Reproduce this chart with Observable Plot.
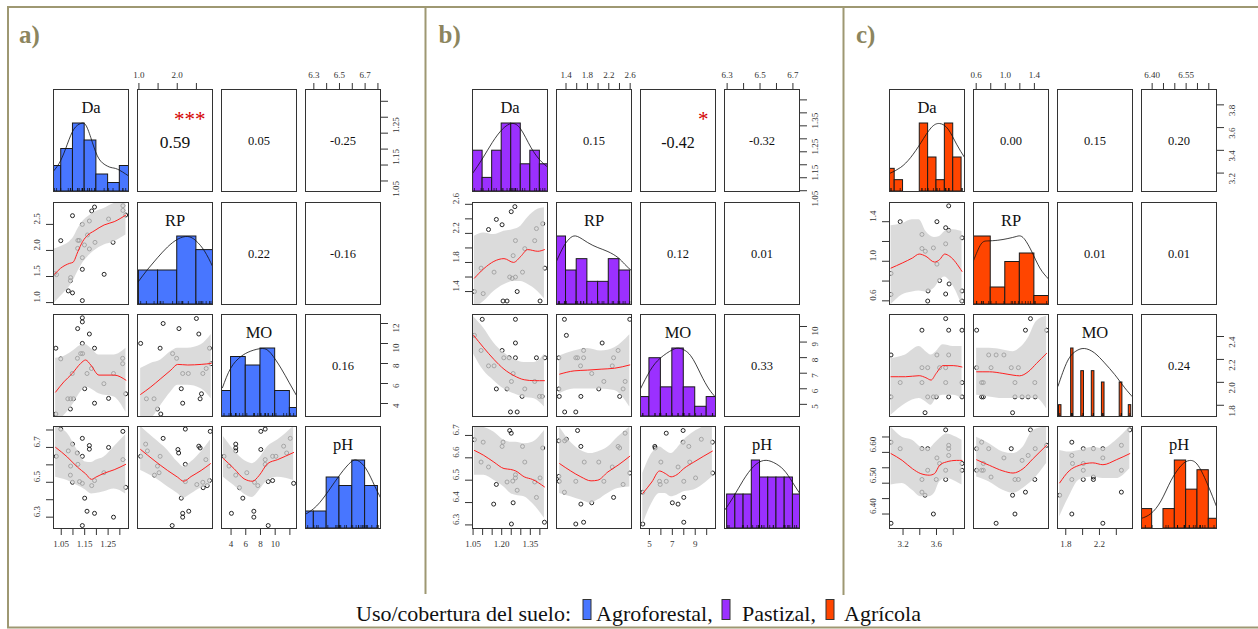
<!DOCTYPE html>
<html><head><meta charset="utf-8">
<script src="https://cdn.jsdelivr.net/npm/d3@7"></script>
<script src="https://cdn.jsdelivr.net/npm/@observablehq/plot@0.6"></script>
<style>
body{margin:0;background:#fff;}
#root{position:relative;width:1258px;height:629px;overflow:hidden;background:#fff;font-family:"Liberation Serif","Times New Roman",serif;}
</style></head>
<body><div id="root"></div>
<script>
// ---------------- DATA ----------------
const varNames = ["Da","RP","MO","pH"];
const groupLabels = ["a)","b)","c)"];
const groupColors = ["#4876FF","#9B30FF","#FF4500"];
const legendTitle = "Uso/cobertura del suelo:";
const legendLabels = ["Agroforestal,","Pastizal,","Agrícola"];

// ---- a) Agroforestal ----
const a_domains = [[1.017,1.337],[0.963,2.92],[2.7,12.9],[6.235,6.82]];
const a_ticks = [[1.05,1.10,1.15,1.20,1.25,1.30],[1.0,1.5,2.0,2.5],[4,6,8,10,12],[6.3,6.4,6.5,6.6,6.7,6.8]];
const a_hLabels = [[1.05,1.15,1.25],[1.0,2.0],[4,6,8,10],[6.3,6.5,6.7]];
const a_vLabels = [[1.05,1.15,1.25],[1.0,1.5,2.0,2.5],[4,6,8,10,12],[6.3,6.5,6.7]];
const a_decimals = [2,1,0,1];
const a_r = [0.59,0.05,-0.25,0.22,-0.16,0.16];
const a_sig = ["***","","","","",""];
const a_Da_bins = [1.00,1.05,1.10,1.15,1.20,1.25,1.30,1.35];
const a_Da_counts = [3,5,8,6,2,1,3];
const a_Da_dens = [[1.018,0.304],[1.047,0.451],[1.076,0.696],[1.104,0.917],[1.133,1.0],[1.154,0.98],[1.176,0.794],[1.204,0.525],[1.233,0.402],[1.262,0.353],[1.290,0.328],[1.337,0.230]];
const a_RP_bins = [1.0,1.5,2.0,2.5,3.0];
const a_RP_counts = [5,5,10,8];
const a_RP_dens = [[0.974,0.328],[1.221,0.512],[1.484,0.687],[1.747,0.846],[2.011,0.960],[2.274,1.0],[2.492,0.935],[2.711,0.786],[2.921,0.562]];
const a_MO_bins = [2,4,6,8,10,12,14];
const a_MO_counts = [3,7,6,8,3,1];
const a_MO_dens = [[2.83,0.423],[3.96,0.712],[5.32,0.880],[6.69,0.962],[8.28,1.0],[9.42,0.928],[10.78,0.712],[11.92,0.495],[12.93,0.303]];
const a_pH_bins = [6.2,6.3,6.4,6.5,6.6,6.7,6.8];
const a_pH_counts = [2,2,6,5,8,5];
const a_pH_dens = [[6.234,0.208],[6.322,0.332],[6.415,0.554],[6.508,0.802],[6.588,0.975],[6.642,1.0],[6.708,0.876],[6.774,0.629],[6.822,0.446]];
const a_Da_RP = [[1.021,1.556],[1.030,1.536],[1.048,2.188],[1.080,1.224],[1.089,1.419],[1.090,1.479],[1.098,2.667],[1.098,1.186],[1.120,2.040],[1.121,2.193],[1.127,2.193],[1.140,2.500],[1.140,1.862],[1.140,1.638],[1.140,1.038],[1.149,2.105],[1.162,2.297],[1.170,2.565],[1.170,2.029],[1.180,2.757],[1.192,2.833],[1.194,2.155],[1.233,1.542],[1.252,2.603],[1.271,2.155],[1.313,2.858],[1.313,2.768],[1.325,2.680]];
const a_Da_RP_fit = [[1.021,1.542,0.987,2.029],[1.047,1.657,1.115,2.073],[1.086,1.753,1.307,2.169],[1.100,1.772,1.402,2.232],[1.121,1.977,1.594,2.412],[1.141,2.169,1.753,2.552],[1.164,2.297,1.881,2.648],[1.190,2.374,1.990,2.730],[1.233,2.489,2.105,2.807],[1.276,2.552,2.169,2.902],[1.326,2.680,2.297,2.935]];
const a_Da_MO = [[1.027,9.53],[1.048,8.46],[1.027,2.95],[1.089,3.45],[1.078,4.47],[1.090,4.47],[1.102,4.47],[1.097,7.00],[1.119,8.52],[1.120,11.49],[1.133,8.99],[1.140,12.57],[1.140,12.16],[1.140,10.01],[1.141,8.99],[1.170,10.95],[1.179,7.50],[1.160,7.00],[1.150,5.48],[1.192,9.53],[1.192,4.03],[1.232,5.98],[1.252,4.51],[1.273,7.00],[1.312,8.52],[1.312,7.98],[1.325,4.97]];
const a_Da_MO_fit = [[1.026,5.14,2.11,8.52],[1.061,6.16,2.78,8.69],[1.097,7.00,3.80,9.19],[1.133,8.01,5.14,9.80],[1.154,8.35,5.65,9.87],[1.176,7.85,5.48,9.53],[1.211,6.84,4.97,8.86],[1.276,6.84,4.64,8.86],[1.326,6.33,3.12,9.53]];
const a_RP_MO = [[1.045,10.01],[1.195,4.47],[1.395,4.47],[1.484,3.45],[1.571,2.95],[1.553,9.53],[1.632,12.0],[1.879,8.99],[1.984,8.52],[2.045,11.49],[2.105,5.48],[2.142,7.00],[2.142,4.03],[2.289,7.00],[2.500,12.5],[2.563,10.95],[2.597,4.47],[2.632,4.97],[2.668,7.00],[2.755,7.50],[2.842,9.53],[2.879,7.98]];
const a_RP_MO_fit = [[1.045,4.91,2.11,7.50],[1.308,5.65,2.44,8.01],[1.571,6.49,3.80,8.35],[1.834,7.34,5.14,9.19],[2.011,7.91,5.82,9.53],[2.274,7.85,5.82,9.53],[2.624,7.91,5.48,9.87],[2.887,8.01,4.47,10.89]];
const a_Da_pH = [[1.029,6.649],[1.048,6.805],[1.080,6.680],[1.089,6.541],[1.090,6.593],[1.098,6.719],[1.098,6.500],[1.118,6.668],[1.121,6.603],[1.128,6.504],[1.140,6.752],[1.140,6.649],[1.140,6.494],[1.150,6.409],[1.140,6.252],[1.160,6.334],[1.170,6.711],[1.170,6.690],[1.180,6.481],[1.192,6.510],[1.192,6.322],[1.232,6.555],[1.252,6.700],[1.273,6.300],[1.313,6.630],[1.313,6.792],[1.325,6.471]];
const a_Da_pH_fit = [[1.026,6.700,6.529,6.820],[1.076,6.645,6.510,6.781],[1.119,6.587,6.481,6.684],[1.154,6.549,6.456,6.616],[1.179,6.517,6.433,6.613],[1.197,6.529,6.436,6.626],[1.233,6.552,6.446,6.645],[1.276,6.572,6.462,6.704],[1.325,6.603,6.433,6.772]];
const a_RP_pH = [[1.045,6.649],[1.176,6.719],[1.221,6.680],[1.405,6.541],[1.484,6.593],[1.526,6.555],[1.553,6.649],[1.632,6.752],[1.868,6.252],[2.018,6.688],[2.037,6.668],[2.105,6.409],[2.142,6.322],[2.142,6.300],[2.211,6.805],[2.211,6.603],[2.211,6.504],[2.300,6.334],[2.511,6.487],[2.563,6.707],[2.597,6.697],[2.668,6.500],[2.676,6.469],[2.747,6.630],[2.782,6.481],[2.842,6.510],[2.861,6.792]];
const a_RP_pH_fit = [[1.045,6.688,6.568,6.820],[1.395,6.626,6.529,6.752],[1.747,6.568,6.475,6.684],[2.011,6.529,6.436,6.616],[2.168,6.506,6.409,6.587],[2.361,6.533,6.433,6.616],[2.624,6.568,6.467,6.674],[2.868,6.607,6.481,6.742]];
const a_MO_pH = [[3.04,6.649],[3.72,6.593],[4.05,6.322],[4.64,6.719],[4.64,6.697],[4.64,6.680],[4.64,6.541],[5.14,6.469],[5.60,6.409],[6.14,6.555],[7.10,6.334],[7.10,6.300],[7.19,6.500],[7.64,6.481],[8.05,6.792],[8.05,6.688],[8.64,6.805],[8.64,6.630],[8.64,6.603],[9.05,6.504],[9.05,6.252],[9.65,6.510],[9.65,6.649],[10.10,6.649],[11.15,6.707],[11.56,6.668],[12.05,6.752],[12.51,6.494]];
const a_MO_pH_fit = [[2.96,6.636,6.529,6.762],[4.41,6.578,6.481,6.684],[5.77,6.520,6.433,6.626],[6.92,6.506,6.413,6.607],[7.82,6.539,6.452,6.636],[8.97,6.607,6.510,6.704],[10.33,6.630,6.529,6.742],[12.51,6.671,6.510,6.820]];

// ---- b) Pastizal ----
const b_domains = [[1.047,1.440],[1.222,2.625],[4.22,10.77],[6.284,6.740]];
const b_ticks = [[1.05,1.10,1.15,1.20,1.25,1.30,1.35,1.40],[1.4,1.6,1.8,2.0,2.2,2.4,2.6],[5,6,7,8,9,10],[6.3,6.4,6.5,6.6,6.7]];
const b_hLabels = [[1.05,1.20,1.35],[1.4,1.8,2.2,2.6],[5,7,9],[6.3,6.5,6.7]];
const b_vLabels = [[1.05,1.15,1.25,1.35],[1.4,1.8,2.2,2.6],[5,6,7,8,9,10],[6.3,6.4,6.5,6.6,6.7]];
const b_decimals = [2,1,0,1];
const b_r = [0.15,-0.42,-0.32,0.12,0.01,0.33];
const b_sig = ["","*","","","",""];
const b_Da_bins = [1.05,1.10,1.15,1.20,1.25,1.30,1.35,1.40,1.45];
const b_Da_counts = [3,1,3,5,5,2,3,2];
const b_Da_dens = [[1.048,0.268],[1.098,0.478],[1.151,0.722],[1.204,0.917],[1.253,1.0],[1.300,0.917],[1.353,0.649],[1.403,0.454],[1.442,0.356]];
const b_RP_bins = [1.2,1.4,1.6,1.8,2.0,2.2,2.4,2.6];
const b_RP_counts = [6,3,4,2,2,4,3];
const b_RP_dens = [[1.224,0.640],[1.362,0.862],[1.489,0.985],[1.616,1.0],[1.805,0.911],[1.995,0.837],[2.184,0.778],[2.373,0.690],[2.499,0.591],[2.631,0.493]];
const b_MO_bins = [4,5,6,7,8,9,10,11];
const b_MO_counts = [2,6,3,7,3,1,2];
const b_MO_dens = [[4.21,0.404],[5.06,0.675],[5.94,0.857],[7.00,0.980],[7.70,1.0],[8.59,0.897],[9.47,0.626],[10.20,0.404],[10.79,0.281]];
const b_pH_bins = [6.30,6.35,6.40,6.45,6.50,6.55,6.60,6.65,6.70,6.75];
const b_pH_counts = [2,2,2,4,3,3,3,3,2];
const b_pH_dens = [[6.282,0.26],[6.337,0.46],[6.398,0.71],[6.460,0.91],[6.522,1.0],[6.583,0.97],[6.645,0.86],[6.696,0.685],[6.743,0.51]];
const b_Da_RP = [[1.057,1.400],[1.103,1.372],[1.092,1.722],[1.131,2.253],[1.160,1.667],[1.172,2.392],[1.202,2.319],[1.207,1.270],[1.228,1.270],[1.242,1.600],[1.255,1.582],[1.250,2.499],[1.269,2.568],[1.260,1.894],[1.272,2.101],[1.272,1.599],[1.281,1.400],[1.309,1.667],[1.321,1.990],[1.373,2.100],[1.382,2.266],[1.401,1.270],[1.415,2.333],[1.426,1.722]];
const b_Da_RP_fit = [[1.057,1.584,1.169,2.161],[1.106,1.714,1.262,2.207],[1.159,1.815,1.400,2.184],[1.212,1.853,1.493,2.230],[1.262,1.801,1.538,2.254],[1.300,1.884,1.538,2.300],[1.336,1.977,1.500,2.415],[1.389,1.954,1.400,2.531],[1.424,1.977,1.300,2.553]];
const b_Da_MO = [[1.057,9.43],[1.098,10.46],[1.092,8.46],[1.131,7.47],[1.160,7.47],[1.172,5.99],[1.202,8.46],[1.211,7.99],[1.228,5.99],[1.239,7.99],[1.246,4.51],[1.251,6.47],[1.260,6.98],[1.272,10.46],[1.272,8.94],[1.272,7.99],[1.281,4.51],[1.307,5.51],[1.321,5.99],[1.373,6.47],[1.382,7.99],[1.398,5.51],[1.412,5.51],[1.426,7.99]];
const b_Da_MO_fit = [[1.053,9.43,8.21,10.63],[1.106,8.63,7.15,9.89],[1.159,7.89,6.52,8.94],[1.212,7.26,5.99,8.31],[1.265,6.84,5.68,7.89],[1.318,6.58,5.46,7.68],[1.371,6.52,5.36,7.68],[1.424,6.52,4.83,8.21]];
const b_RP_MO = [[1.267,7.99],[1.267,5.99],[1.274,5.51],[1.370,10.46],[1.375,4.51],[1.407,9.43],[1.583,7.99],[1.616,7.99],[1.583,4.51],[1.678,5.51],[1.729,8.46],[1.729,7.99],[1.672,7.47],[1.881,6.98],[2.013,5.99],[2.076,8.94],[2.108,6.47],[2.265,7.47],[2.290,7.99],[2.374,8.46],[2.404,5.51],[2.468,5.99],[2.506,6.47],[2.593,10.46]];
const b_RP_MO_fit = [[1.281,6.94,5.68,8.10],[1.552,7.15,5.99,8.42],[1.805,7.20,5.99,8.59],[2.057,7.26,5.99,8.42],[2.309,7.32,5.89,8.63],[2.593,7.53,4.83,9.47]];
const b_Da_pH = [[1.057,6.681],[1.103,6.670],[1.092,6.581],[1.131,6.559],[1.172,6.481],[1.158,6.393],[1.202,6.651],[1.207,6.670],[1.228,6.492],[1.242,6.722],[1.250,6.710],[1.251,6.304],[1.260,6.399],[1.272,6.524],[1.272,6.510],[1.281,6.455],[1.309,6.651],[1.321,6.581],[1.373,6.492],[1.382,6.423],[1.401,6.510],[1.415,6.644],[1.424,6.312],[1.258,6.496]];
const b_Da_pH_fit = [[1.057,6.633,6.522,6.744],[1.106,6.611,6.522,6.737],[1.159,6.581,6.500,6.715],[1.212,6.552,6.470,6.678],[1.247,6.548,6.441,6.670],[1.274,6.541,6.433,6.670],[1.318,6.515,6.426,6.663],[1.362,6.503,6.396,6.670],[1.424,6.470,6.330,6.722]];
const b_RP_pH = [[1.267,6.676],[1.267,6.517],[1.274,6.495],[1.370,6.446],[1.375,6.676],[1.407,6.683],[1.583,6.304],[1.583,6.495],[1.616,6.722],[1.678,6.651],[1.678,6.393],[1.729,6.312],[1.741,6.581],[1.881,6.399],[2.013,6.581],[2.108,6.495],[2.265,6.559],[2.290,6.423],[2.374,6.651],[2.404,6.644],[2.468,6.481],[2.506,6.710],[2.593,6.532]];
const b_RP_pH_fit = [[1.281,6.574,6.441,6.737],[1.489,6.541,6.426,6.670],[1.678,6.515,6.411,6.633],[1.868,6.497,6.396,6.619],[1.994,6.500,6.411,6.626],[2.184,6.537,6.441,6.648],[2.373,6.567,6.463,6.693],[2.593,6.607,6.470,6.737]];
const b_MO_pH = [[4.42,6.446],[4.42,6.304],[5.47,6.651],[5.50,6.644],[5.88,6.495],[5.94,6.481],[6.00,6.581],[6.47,6.495],[6.47,6.710],[7.00,6.399],[7.50,6.559],[7.50,6.393],[7.94,6.722],[7.94,6.670],[8.00,6.495],[8.00,6.312],[8.00,6.423],[8.44,6.651],[8.52,6.581],[9.03,6.510],[9.53,6.683],[10.50,6.670],[10.52,6.532]];
const b_MO_pH_fit = [[4.42,6.441,6.300,6.530],[5.21,6.492,6.396,6.619],[5.88,6.541,6.441,6.648],[6.38,6.530,6.441,6.633],[6.89,6.515,6.426,6.619],[7.41,6.525,6.433,6.641],[8.00,6.552,6.448,6.678],[8.88,6.581,6.456,6.715],[10.50,6.630,6.515,6.752]];

// ---- c) Agrícola ----
const c_domains = [[3.038,3.935],[0.563,1.594],[1.702,2.592],[6.353,6.684]];
const c_ticks = [[3.2,3.4,3.6,3.8],[0.6,0.8,1.0,1.2,1.4],[1.8,2.0,2.2,2.4],[6.40,6.45,6.50,6.55,6.60,6.65]];
const c_hLabels = [[3.2,3.6],[0.6,1.0,1.4],[1.8,2.2],[6.40,6.55]];
const c_vLabels = [[3.2,3.4,3.6,3.8],[0.6,1.0,1.4],[1.8,2.0,2.2,2.4],[6.40,6.50,6.60]];
const c_decimals = [1,1,1,2];
const c_r = [0.00,0.15,0.20,0.01,0.01,0.24];
const c_sig = ["","","","","",""];
const c_Da_bins = [3.0,3.1,3.2,3.3,3.4,3.5,3.6,3.7,3.8,3.9];
const c_Da_counts = [2,1,0,0,6,3,1,6,3];
const c_Da_dens = [[3.039,0.265],[3.170,0.353],[3.291,0.5],[3.413,0.716],[3.535,0.936],[3.637,1.0],[3.739,0.917],[3.840,0.696],[3.941,0.49]];
const c_RP_bins = [0.5,0.8,1.0,1.2,1.4,1.6];
const c_RP_counts = [8,2,5,6,1];
const c_RP_dens = [[0.564,0.647],[0.665,0.886],[0.758,0.935],[0.897,0.945],[1.036,0.970],[1.151,1.0],[1.244,0.985],[1.360,0.786],[1.475,0.537],[1.592,0.378]];
const c_MO_bins = [[1.720,1.749],[1.864,1.892],[1.984,2.016],[2.109,2.140],[2.229,2.260],[2.440,2.472],[2.548,2.577]];
const c_MO_counts = [1,6,4,4,3,3,1];
const c_MO_dens = [[1.708,0.446],[1.820,0.814],[1.920,0.961],[2.020,1.0],[2.140,0.936],[2.260,0.789],[2.380,0.618],[2.500,0.422],[2.596,0.284]];
const c_pH_bins = [6.35,6.40,6.45,6.50,6.55,6.60,6.65,6.70];
const c_pH_counts = [2,0,2,7,4,6,1];
const c_pH_dens = [[6.353,0.149],[6.394,0.218],[6.439,0.406],[6.483,0.703],[6.528,0.926],[6.565,1.0],[6.603,0.926],[6.647,0.629],[6.683,0.332]];
const c_Da_RP = [[3.056,0.877],[3.056,0.665],[3.166,1.400],[3.426,1.271],[3.426,1.129],[3.466,1.101],[3.499,0.700],[3.495,0.598],[3.563,1.135],[3.605,1.400],[3.605,0.971],[3.637,0.805],[3.710,1.339],[3.710,1.176],[3.710,0.669],[3.746,1.560],[3.746,1.312],[3.751,0.771],[3.905,1.237],[3.905,0.700],[3.905,0.598]];
const c_Da_RP_fit = [[3.056,0.931,0.56,1.36],[3.190,0.982,0.66,1.38],[3.312,1.033,0.69,1.42],[3.393,1.073,0.70,1.42],[3.474,1.050,0.69,1.30],[3.576,0.992,0.73,1.24],[3.637,1.016,0.80,1.25],[3.698,1.073,0.84,1.30],[3.759,1.050,0.80,1.32],[3.905,0.897,0.56,1.30]];
const c_Da_MO = [[3.056,2.239],[3.056,1.873],[3.166,1.998],[3.426,2.455],[3.426,2.128],[3.426,1.998],[3.463,1.735],[3.495,2.128],[3.495,1.873],[3.563,1.873],[3.597,1.873],[3.605,2.239],[3.637,2.128],[3.710,2.556],[3.710,2.128],[3.710,1.998],[3.746,2.455],[3.746,2.239],[3.746,1.873],[3.905,2.455],[3.905,1.998],[3.905,1.873]];
const c_Da_MO_fit = [[3.056,2.049,1.712,2.209],[3.230,2.049,1.814,2.239],[3.393,2.058,1.858,2.312],[3.474,2.040,1.829,2.268],[3.535,2.020,1.800,2.239],[3.596,2.078,1.858,2.268],[3.678,2.146,1.888,2.327],[3.800,2.146,1.888,2.312],[3.905,2.134,1.858,2.312]];
const c_RP_MO = [[0.606,2.455],[0.606,2.128],[0.675,1.998],[0.698,1.998],[0.675,1.873],[0.698,1.873],[0.772,2.239],[0.804,2.128],[0.874,2.239],[0.981,2.239],[1.082,2.128],[1.100,1.735],[1.133,1.998],[1.133,1.873],[1.180,2.128],[1.231,1.873],[1.277,2.455],[1.314,1.873],[1.346,2.556],[1.406,1.998],[1.411,1.873],[1.568,2.455]];
const c_RP_MO_fit = [[0.606,2.092,1.888,2.297],[0.781,2.092,1.873,2.297],[0.967,2.078,1.858,2.283],[1.106,2.063,1.858,2.268],[1.197,2.057,1.858,2.297],[1.314,2.092,1.858,2.385],[1.429,2.165,1.858,2.532],[1.568,2.253,1.770,2.576]];
const c_Da_pH = [[3.056,6.633],[3.056,6.370],[3.166,6.612],[3.426,6.612],[3.426,6.512],[3.426,6.471],[3.463,6.461],[3.495,6.612],[3.495,6.542],[3.563,6.400],[3.597,6.512],[3.605,6.582],[3.637,6.564],[3.710,6.673],[3.710,6.542],[3.710,6.512],[3.746,6.623],[3.746,6.590],[3.746,6.612],[3.905,6.564],[3.905,6.542]];
const c_Da_pH_fit = [[3.056,6.596,6.494,6.682],[3.190,6.574,6.499,6.649],[3.312,6.547,6.477,6.639],[3.413,6.531,6.456,6.617],[3.515,6.526,6.456,6.612],[3.576,6.531,6.467,6.628],[3.637,6.558,6.504,6.644],[3.718,6.569,6.515,6.660],[3.840,6.574,6.504,6.649],[3.905,6.574,6.494,6.639]];
const c_RP_pH = [[0.606,6.612],[0.606,6.542],[0.675,6.633],[0.675,6.542],[0.698,6.564],[0.698,6.542],[0.772,6.612],[0.804,6.520],[0.874,6.370],[0.981,6.582],[1.082,6.612],[1.100,6.461],[1.133,6.400],[1.133,6.512],[1.180,6.512],[1.231,6.574],[1.277,6.471],[1.314,6.590],[1.346,6.673],[1.406,6.512],[1.411,6.612],[1.568,6.623]];
const c_RP_pH_fit = [[0.606,6.576,6.520,6.649],[0.781,6.558,6.504,6.628],[0.967,6.540,6.477,6.601],[1.106,6.533,6.467,6.596],[1.244,6.547,6.483,6.617],[1.383,6.580,6.510,6.671],[1.568,6.623,6.564,6.682]];
const c_MO_pH = [[1.728,6.461],[1.872,6.633],[1.872,6.590],[1.872,6.512],[1.872,6.400],[1.880,6.564],[2.008,6.612],[2.008,6.542],[2.008,6.512],[2.008,6.564],[2.128,6.612],[2.128,6.520],[2.128,6.512],[2.240,6.612],[2.240,6.582],[2.240,6.370],[2.460,6.542],[2.460,6.471],[2.460,6.623],[2.560,6.673]];
const c_MO_pH_fit = [[1.728,6.501,6.391,6.606],[1.840,6.540,6.456,6.601],[1.960,6.558,6.510,6.606],[2.121,6.566,6.520,6.617],[2.241,6.560,6.515,6.612],[2.400,6.576,6.515,6.639],[2.560,6.596,6.547,6.682]];

// ---------------- TABLES BUILT FROM THE ARRAYS ----------------
function buildGroup(domains, ticks, hLab, vLab, dec, r, sig, hist, sc) {
  return {domains, ticks, hLab, vLab, dec, r, sig, hist,
    scatter: {"1,0": sc[0], "2,0": sc[1], "2,1": sc[2], "3,0": sc[3], "3,1": sc[4], "3,2": sc[5]},
    rug: [sc[0][0].map(d => d[0]), sc[2][0].map(d => d[0]), sc[5][0].map(d => d[0]), sc[3][0].map(d => d[1])]};
}
const groups = [
  buildGroup(a_domains, a_ticks, a_hLabels, a_vLabels, a_decimals, a_r, a_sig,
    [[a_Da_bins,a_Da_counts,a_Da_dens],[a_RP_bins,a_RP_counts,a_RP_dens],[a_MO_bins,a_MO_counts,a_MO_dens],[a_pH_bins,a_pH_counts,a_pH_dens]],
    [[a_Da_RP,a_Da_RP_fit],[a_Da_MO,a_Da_MO_fit],[a_RP_MO,a_RP_MO_fit],[a_Da_pH,a_Da_pH_fit],[a_RP_pH,a_RP_pH_fit],[a_MO_pH,a_MO_pH_fit]]),
  buildGroup(b_domains, b_ticks, b_hLabels, b_vLabels, b_decimals, b_r, b_sig,
    [[b_Da_bins,b_Da_counts,b_Da_dens],[b_RP_bins,b_RP_counts,b_RP_dens],[b_MO_bins,b_MO_counts,b_MO_dens],[b_pH_bins,b_pH_counts,b_pH_dens]],
    [[b_Da_RP,b_Da_RP_fit],[b_Da_MO,b_Da_MO_fit],[b_RP_MO,b_RP_MO_fit],[b_Da_pH,b_Da_pH_fit],[b_RP_pH,b_RP_pH_fit],[b_MO_pH,b_MO_pH_fit]]),
  buildGroup(c_domains, c_ticks, c_hLabels, c_vLabels, c_decimals, c_r, c_sig,
    [[c_Da_bins,c_Da_counts,c_Da_dens],[c_RP_bins,c_RP_counts,c_RP_dens],[c_MO_bins,c_MO_counts,c_MO_dens],[c_pH_bins,c_pH_counts,c_pH_dens]],
    [[c_Da_RP,c_Da_RP_fit],[c_Da_MO,c_Da_MO_fit],[c_RP_MO,c_RP_MO_fit],[c_Da_pH,c_Da_pH_fit],[c_RP_pH,c_RP_pH_fit],[c_MO_pH,c_MO_pH_fit]])
];

// ---------------- LAYOUT / STYLE ----------------
const W = 75, H = 102, COL_STEP = 84;
const colLeft0 = [53, 472, 889];
const rowTop = [89, 202, 314, 426];
const FONT = "'Liberation Serif','Times New Roman',serif";
const pairIndex = {"0,1":0,"0,2":1,"0,3":2,"1,2":3,"1,3":4,"2,3":5};
const has = (arr, v) => arr.some(a => Math.abs(a - v) < 1e-9);
const root = document.getElementById("root");

function drawPanel(G, gi, i, j) {
  const left = colLeft0[gi] + j * COL_STEP, top = rowTop[i];
  const hasTop = i === 0 && (j === 1 || j === 3);
  const hasBottom = i === 3 && (j === 0 || j === 2);
  const hasRight = j === 3 && (i === 0 || i === 2);
  const hasLeft = j === 0 && (i === 1 || i === 3);
  const mt = hasTop ? 28 : 2, mb = hasBottom ? 28 : 2, ml = hasLeft ? 28 : 2, mr = hasRight ? 28 : 2;
  const xDom = G.domains[j];
  let yDom = G.domains[i];
  const marks = [];
  if (i === j) {
    const [bins, counts, dens] = G.hist[i];
    const maxC = d3.max(counts);
    yDom = [0, 1.5 * maxC];
    const rects = counts.map((c, k) => Array.isArray(bins[0])
      ? {x1: bins[k][0], x2: bins[k][1], c}
      : {x1: bins[k], x2: bins[k + 1], c});
    marks.push(Plot.rect(rects, {x1: "x1", x2: "x2", y1: 0, y2: "c", fill: groupColors[gi], stroke: "#1a1a1a", strokeWidth: 1, clip: true}));
    marks.push(Plot.line(dens, {x: d => d[0], y: d => d[1] * maxC, curve: "natural", stroke: "#111", strokeWidth: 0.8, clip: true}));
    marks.push(Plot.tickX(G.rug[i], {x: d => d, insetTop: H - 3, stroke: "#111", strokeWidth: 0.7, clip: true}));
    marks.push(Plot.text([varNames[i]], {text: d => d, frameAnchor: "top", lineAnchor: "middle", dy: 18, fontSize: 16.5, fill: "#111"}));
  } else if (i < j) {
    const k = pairIndex[`${i},${j}`];
    const r = G.r[k], s = G.sig[k];
    marks.push(Plot.text([r.toFixed(2)], {text: d => d, frameAnchor: "middle", lineAnchor: "middle", dy: s ? 2 : 0,
      fontSize: s ? 12.5 + 8.5 * Math.abs(r) : 12.5, fill: "#111"}));
    if (s) marks.push(Plot.text([s], {text: d => d, frameAnchor: "top-left", lineAnchor: "middle", dx: 68, dy: 30, textAnchor: "end", fontSize: 21, fill: "#d40000"}));
  } else {
    const [pts, fit] = G.scatter[`${i},${j}`];
    marks.push(Plot.dot(pts, {x: d => d[0], y: d => d[1], r: 2, stroke: "#111", strokeWidth: 0.9, fill: "none", clip: true}));
    marks.push(Plot.areaY(fit, {x: d => d[0], y1: d => d[2], y2: d => d[3], fill: "#cfcfcf", fillOpacity: 0.75, curve: "monotone-x", clip: true}));
    marks.push(Plot.line(fit, {x: d => d[0], y: d => d[1], stroke: "#ff2020", strokeWidth: 1, curve: "monotone-x", clip: true}));
  }
  marks.push(Plot.frame({stroke: "#333", strokeWidth: 1}));
  if (hasTop || hasBottom) {
    marks.push(Plot.axisX({anchor: hasTop ? "top" : "bottom", ticks: G.ticks[j], tickSize: 7, tickPadding: 5,
      tickFormat: v => has(G.hLab[j], v) ? v.toFixed(G.dec[j]) : ""}));
  }
  if (hasLeft || hasRight) {
    marks.push(Plot.axisY({anchor: hasRight ? "right" : "left", ticks: G.ticks[i], tickSize: 7, tickFormat: () => ""}));
    marks.push(Plot.text(G.vLab[i], {y: d => d, text: d => d.toFixed(G.dec[i]), frameAnchor: hasRight ? "right" : "left",
      dx: hasRight ? 16 : -16, rotate: -90, fontSize: 9, fill: "currentColor"}));
  }
  const svg = Plot.plot({
    width: W + ml + mr, height: H + mt + mb,
    marginTop: mt, marginBottom: mb, marginLeft: ml, marginRight: mr,
    x: {domain: xDom, axis: (hasTop || hasBottom) ? undefined : null},
    y: {domain: yDom, axis: (hasLeft || hasRight) ? undefined : null},
    style: {background: "transparent", fontFamily: FONT, fontSize: "9px", color: "#333", overflow: "visible"},
    marks
  });
  svg.style.position = "absolute";
  svg.style.left = (left - ml) + "px";
  svg.style.top = (top - mt) + "px";
  root.appendChild(svg);
}

// ---------------- FRAME, LABELS, LEGEND ----------------
const borderColor = "#9e9872";
let ov = `<svg width="1258" height="629" style="position:absolute;left:0;top:0" font-family="${FONT.replace(/'/g, "")}">`;
ov += `<g stroke="${borderColor}" stroke-width="2" fill="none">
<line x1="7" y1="7" x2="1258" y2="7"/><line x1="7" y1="627.5" x2="1258" y2="627.5"/>
<line x1="8" y1="7" x2="8" y2="628"/><line x1="425.5" y1="7" x2="425.5" y2="594"/><line x1="843.5" y1="7" x2="843.5" y2="595"/></g>`;
const labelX = [19, 438.5, 856];
groupLabels.forEach((t, k) => {
  ov += `<text x="${labelX[k]}" y="42.5" font-size="25" font-weight="bold" fill="#8c855e">${t}</text>`;
});
ov += `<text x="356" y="621" font-size="22" fill="#111">${legendTitle}</text>`;
const boxX = [583, 722, 826], legTextX = [596, 742, 844];
legendLabels.forEach((t, k) => {
  ov += `<rect x="${boxX[k]}" y="599.5" width="8" height="20" fill="${groupColors[k]}" stroke="#333" stroke-width="1"/>`;
  ov += `<text x="${legTextX[k]}" y="621" font-size="22" fill="#111">${t}</text>`;
});
ov += `</svg>`;
root.insertAdjacentHTML("beforeend", ov);

groups.forEach((G, gi) => {
  for (let i = 0; i < 4; i++) for (let j = 0; j < 4; j++) drawPanel(G, gi, i, j);
});
</script>
</body></html>
